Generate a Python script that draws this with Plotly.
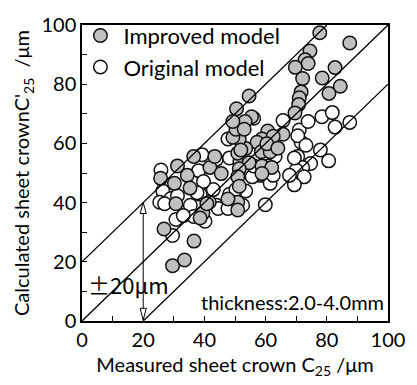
import plotly.graph_objects as go

# Improved model (gray) points
imp_x = [77.7, 87.5, 74.5, 72.9, 73.9, 69.7, 72.1, 78.5, 82.7, 84.4, 80.7, 71.6, 71.0, 70.8, 69.6,
         54.6, 55.4, 50.5, 53.3, 60.7, 58.8, 65.7, 62.5, 57.2, 53.5, 58.6, 61.5, 51.6, 58.8, 62.0,
         51.4, 60.4, 64.0, 50.9, 54.6, 51.4, 50.9, 50.9, 25.7, 31.2, 30.2, 34.4, 35.3, 30.7, 26.8,
         36.6, 29.6, 33.5, 39.5, 41.6, 47.7, 50.9, 41.8, 45.5, 51.4, 36.5, 49.3, 51.9, 40.8, 43.4,
         50.3, 49.3, 53.0, 38.6, 58.8]
imp_y = [97.4, 93.9, 91.2, 88.3, 87.0, 85.7, 81.9, 82.1, 85.6, 79.3, 76.9, 77.4, 75.4, 73.1, 70.3,
         76.0, 69.0, 71.7, 67.4, 64.2, 61.5, 63.1, 62.4, 60.4, 58.3, 57.2, 57.2, 54.0, 52.4, 51.9,
         61.5, 59.9, 58.4, 56.7, 53.5, 51.4, 48.7, 40.1, 48.2, 52.4, 46.5, 49.2, 44.9, 39.6, 31.1,
         27.0, 18.7, 20.6, 36.4, 40.1, 41.2, 37.5, 51.9, 49.8, 45.5, 55.6, 62.1, 57.8, 39.6, 55.6,
         64.8, 67.4, 64.8, 34.8, 49.8]

# Original model (open) points
org_x = [65.7, 71.0, 73.9, 78.4, 81.8, 82.7, 87.5, 71.6, 77.9, 70.5, 80.6, 74.7, 72.1, 70.0, 72.6,
         69.4, 59.9, 58.3, 61.5, 55.6, 53.5, 26.4, 25.4, 29.1, 30.7, 29.6, 35.4, 36.5, 38.6, 42.9,
         43.9, 48.2, 33.1, 40.2, 44.5, 47.7, 38.1, 43.9, 48.2, 39.7, 27.0, 31.2, 37.6, 50.3, 52.5,
         47.7, 39.2, 25.8, 56.1, 70.5, 63.1, 69.4, 60.9, 62.5, 67.8, 56.1, 73.2]
org_y = [67.7, 64.5, 67.4, 69.0, 70.4, 65.5, 67.1, 60.4, 57.8, 55.6, 54.1, 53.2, 51.9, 51.0, 48.7,
         46.0, 39.3, 49.2, 46.5, 48.7, 43.9, 43.9, 40.1, 41.4, 34.3, 28.9, 39.1, 35.3, 42.8, 44.4,
         39.1, 42.8, 35.6, 33.7, 38.0, 38.0, 50.8, 54.6, 55.1, 47.1, 39.6, 42.3, 43.3, 44.4, 39.1,
         61.5, 56.2, 51.0, 68.5, 62.6, 55.6, 55.1, 52.4, 49.2, 49.2, 52.4, 59.4]

ref_offsets = [20, 0, -20]
axis_ticks = [0, 20, 40, 60, 80, 100]

font = "Lato"
fig = go.Figure()

fig.add_trace(go.Scatter(x=org_x, y=org_y, mode="markers", name="Original model",
                         legendrank=2,
                         marker=dict(size=13.5, color="white", line=dict(color="#111", width=1.5))))
fig.add_trace(go.Scatter(x=imp_x, y=imp_y, mode="markers", name="Improved model",
                         legendrank=1,
                         marker=dict(size=13.5, color="#c0c0c0", line=dict(color="#111", width=1.5))))

for off in ref_offsets:
    xs = [max(0, -off), min(100, 100 - off)]
    ys = [v + off for v in xs]
    fig.add_trace(go.Scatter(x=xs, y=ys, mode="lines", showlegend=False,
                             line=dict(color="black", width=1.3), hoverinfo="skip"))

# double arrow at x=20
fig.add_shape(type="line", x0=20, x1=20, y0=4.3, y1=36.3, line=dict(color="black", width=1))
fig.add_shape(type="path", path="M 20,40 L 19,36.3 L 21,36.3 Z",
              fillcolor="white", line=dict(color="black", width=1))
fig.add_shape(type="path", path="M 20,0.3 L 19,4.3 L 21,4.3 Z",
              fillcolor="white", line=dict(color="black", width=1))

fig.add_annotation(x=1.2, y=12.5, text="±20μm", showarrow=False, xanchor="left", yanchor="middle",
                   font=dict(family="Noto Sans CJK JP", size=22, color="black"))
fig.add_annotation(x=99.5, y=6.3, text="thickness:2.0-4.0mm", showarrow=False, xanchor="right",
                   yanchor="middle", font=dict(family=font, size=20, color="black"))

axis_common = dict(range=[0, 100], tickvals=axis_ticks, ticks="inside", ticklen=5,
                   tickcolor="black", showline=True, linecolor="black", linewidth=1.5,
                   mirror=True, showgrid=False, zeroline=False,
                   tickfont=dict(family=font, size=20, color="black"),
                   minor=dict(ticks="inside", dtick=10, ticklen=5, tickcolor="black"))

fig.update_xaxes(**axis_common,
                 title=dict(text="Measured sheet crown C<sub>25</sub> /μm", standoff=8,
                            font=dict(family=font, size=20, color="black")))
fig.update_yaxes(**axis_common,
                 title=dict(text="Calculated sheet crownC'<sub>25</sub>  /μm", standoff=6,
                            font=dict(family=font, size=20, color="black")))

fig.update_layout(width=417, height=385, margin=dict(l=82, r=21, t=13, b=60),
                  plot_bgcolor="white", paper_bgcolor="white",
                  legend=dict(x=-0.015, y=1.035, xanchor="left", yanchor="top",
                              bgcolor="rgba(0,0,0,0)", font=dict(family=font, size=22, color="black"),
                              tracegroupgap=0, itemwidth=36),
                  showlegend=True)

fig.write_html("out.html")
